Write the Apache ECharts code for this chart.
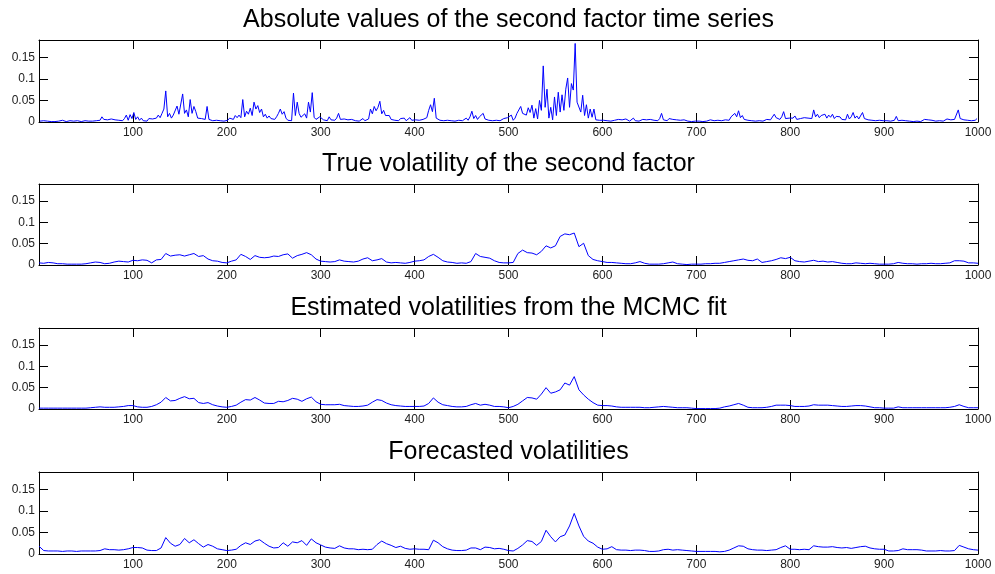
<!DOCTYPE html>
<html>
<head>
<meta charset="utf-8">
<script src="https://cdn.jsdelivr.net/npm/echarts@6/dist/echarts.min.js"></script>
<style>html,body{margin:0;padding:0;background:#fff}#c{width:995px;height:574px}</style>
</head>
<body>
<div id="c"></div>
<script>
// ---- Titles ----
const titles = [
  'Absolute values of the second factor time series',
  'True volatility of the second factor',
  'Estimated volatilities from the MCMC fit',
  'Forecasted volatilities'
];

// ---- Axis ticks ----
const xTicks = { min: 0, max: 1000, interval: 100 };
const yTicks = { min: 0, max: 0.19, interval: 0.05 };

// ---- Panel 1: absolute values, sampled at x = 1, 3, 5, ... 999 ----
const absStart = 1, absStep = 2;
const absValues = [
  0.002,0.001,0.003,0.001,0.002,0.004,0.001,0.002,0.001,0.003,0.002,0.001,0.004,0.002,0.001,0.002,0.003,0.001,0.002,0.001,0.003,0.002,0.001,0.002,0.003,
  0.003,0.002,0.004,0.002,0.005,0.003,0.006,0.004,0.012,0.006,0.003,0.005,0.004,0.007,0.003,0.005,0.008,0.004,0.006,0.003,0.008,0.016,0.004,0.017,0.008,
  0.022,0.006,0.012,0.004,0.009,0.003,0.006,0.002,0.008,0.004,0.007,0.003,0.009,0.016,0.01,0.02,0.03,0.072,0.012,0.02,0.009,0.016,0.012,0.037,0.018,
  0.022,0.065,0.02,0.028,0.012,0.052,0.02,0.036,0.024,0.009,0.005,0.008,0.004,0.006,0.036,0.006,0.008,0.003,0.007,0.004,0.008,0.003,0.006,0.002,0.005,
  0.004,0.009,0.012,0.006,0.015,0.01,0.016,0.01,0.052,0.012,0.025,0.018,0.032,0.015,0.046,0.03,0.038,0.022,0.03,0.012,0.018,0.009,0.014,0.008,0.011,
  0.006,0.012,0.02,0.03,0.018,0.024,0.009,0.004,0.006,0.003,0.067,0.015,0.046,0.02,0.011,0.015,0.019,0.009,0.046,0.023,0.068,0.011,0.006,0.009,0.012,
  0.015,0.005,0.008,0.003,0.012,0.005,0.007,0.004,0.009,0.02,0.006,0.004,0.007,0.003,0.005,0.002,0.006,0.004,0.003,0.007,0.002,0.006,0.008,0.003,0.005,
  0.007,0.03,0.019,0.036,0.026,0.034,0.048,0.019,0.027,0.015,0.011,0.015,0.006,0.009,0.004,0.007,0.003,0.008,0.005,0.009,0.003,0.006,0.01,0.004,0.007,
  0.005,0.009,0.004,0.007,0.006,0.008,0.01,0.027,0.04,0.024,0.055,0.009,0.006,0.004,0.008,0.003,0.006,0.004,0.007,0.003,0.005,0.002,0.006,0.004,0.008,
  0.003,0.006,0.009,0.004,0.012,0.025,0.008,0.015,0.006,0.012,0.009,0.02,0.007,0.01,0.004,0.007,0.003,0.006,0.004,0.008,0.003,0.005,0.008,0.004,0.01,
  0.006,0.016,0.004,0.009,0.02,0.018,0.036,0.02,0.023,0.016,0.033,0.022,0.039,0.009,0.031,0.007,0.05,0.027,0.13,0.034,0.076,0.009,0.034,0.005,0.058,
  0.015,0.069,0.023,0.063,0.027,0.076,0.102,0.034,0.089,0.074,0.182,0.046,0.05,0.023,0.062,0.015,0.04,0.009,0.03,0.011,0.03,0.005,0.008,0.004,0.006,
  0.004,0.007,0.003,0.005,0.002,0.006,0.004,0.003,0.006,0.002,0.005,0.003,0.007,0.004,0.002,0.006,0.009,0.003,0.005,0.002,0.004,0.006,0.003,0.005,0.002,
  0.006,0.01,0.004,0.007,0.003,0.008,0.02,0.005,0.007,0.003,0.008,0.004,0.006,0.002,0.005,0.003,0.004,0.002,0.005,0.003,0.002,0.004,0.001,0.003,0.002,
  0.004,0.002,0.003,0.001,0.004,0.002,0.003,0.005,0.002,0.003,0.001,0.004,0.002,0.003,0.002,0.005,0.006,0.004,0.012,0.008,0.02,0.012,0.026,0.01,0.015,
  0.006,0.01,0.004,0.006,0.003,0.005,0.002,0.004,0.003,0.005,0.002,0.004,0.006,0.003,0.005,0.008,0.018,0.01,0.014,0.006,0.012,0.024,0.008,0.005,0.009,
  0.005,0.009,0.014,0.006,0.004,0.008,0.005,0.01,0.006,0.009,0.012,0.008,0.028,0.012,0.018,0.01,0.015,0.012,0.018,0.009,0.016,0.011,0.018,0.008,0.013,
  0.009,0.012,0.006,0.008,0.005,0.018,0.007,0.012,0.022,0.009,0.014,0.007,0.01,0.022,0.008,0.011,0.005,0.009,0.004,0.007,0.003,0.006,0.004,0.007,0.003,
  0.005,0.003,0.006,0.002,0.005,0.004,0.013,0.003,0.006,0.004,0.007,0.003,0.005,0.002,0.004,0.001,0.003,0.002,0.004,0.001,0.002,0.006,0.003,0.005,0.002,
  0.004,0.006,0.002,0.005,0.003,0.006,0.002,0.004,0.007,0.003,0.005,0.004,0.006,0.01,0.028,0.008,0.011,0.005,0.008,0.004,0.007,0.003,0.006,0.004,0.008
];

// ---- Panels 2-4: volatilities, sampled at x = 0, 5, 10, ... 1000 ----
const volStart = 0, volStep = 5;
const trueVol = [
  0.005,0.004,0.006,0.005,0.003,0.003,0.002,0.002,0.002,0.002,0.003,0.005,0.007,0.006,0.003,0.004,0.007,0.009,0.008,0.007,
  0.011,0.01,0.012,0.011,0.005,0.012,0.013,0.027,0.021,0.023,0.024,0.021,0.024,0.027,0.02,0.022,0.014,0.01,0.009,0.006,
  0.005,0.009,0.012,0.025,0.02,0.013,0.022,0.018,0.017,0.018,0.021,0.02,0.024,0.026,0.016,0.022,0.025,0.029,0.024,0.014,
  0.009,0.008,0.007,0.008,0.012,0.009,0.008,0.007,0.009,0.014,0.017,0.01,0.012,0.015,0.007,0.005,0.006,0.005,0.004,0.006,
  0.009,0.01,0.012,0.02,0.025,0.018,0.01,0.007,0.006,0.004,0.005,0.004,0.008,0.027,0.02,0.018,0.016,0.01,0.006,0.005,
  0.005,0.006,0.027,0.035,0.029,0.028,0.024,0.032,0.045,0.04,0.045,0.067,0.073,0.071,0.075,0.043,0.051,0.022,0.013,0.01,
  0.008,0.006,0.006,0.005,0.004,0.003,0.003,0.005,0.008,0.004,0.002,0.002,0.002,0.003,0.005,0.007,0.003,0.002,0.001,0.002,
  0.002,0.002,0.003,0.003,0.004,0.004,0.006,0.008,0.01,0.012,0.014,0.011,0.01,0.014,0.006,0.008,0.01,0.013,0.017,0.015,
  0.018,0.01,0.008,0.007,0.009,0.011,0.008,0.009,0.007,0.008,0.006,0.004,0.003,0.003,0.005,0.004,0.003,0.004,0.003,0.002,
  0.002,0.002,0.003,0.006,0.004,0.003,0.003,0.002,0.003,0.003,0.004,0.003,0.003,0.004,0.005,0.01,0.01,0.009,0.005,0.005,
  0.004
];
const estVol = [
  0.002,0.002,0.002,0.002,0.002,0.002,0.002,0.002,0.002,0.002,0.002,0.003,0.004,0.005,0.004,0.004,0.004,0.005,0.006,0.008,
  0.008,0.005,0.004,0.004,0.006,0.01,0.016,0.027,0.019,0.02,0.025,0.029,0.024,0.025,0.015,0.013,0.015,0.01,0.007,0.005,
  0.004,0.006,0.009,0.016,0.022,0.021,0.027,0.021,0.014,0.013,0.013,0.018,0.017,0.02,0.025,0.023,0.018,0.024,0.028,0.017,
  0.011,0.01,0.01,0.01,0.011,0.008,0.007,0.006,0.006,0.007,0.009,0.016,0.022,0.02,0.014,0.01,0.008,0.007,0.006,0.006,
  0.006,0.006,0.007,0.013,0.026,0.016,0.01,0.008,0.006,0.005,0.005,0.006,0.01,0.013,0.009,0.011,0.009,0.006,0.006,0.005,
  0.003,0.006,0.011,0.019,0.027,0.026,0.023,0.035,0.05,0.037,0.04,0.045,0.061,0.056,0.076,0.045,0.033,0.023,0.015,0.009,
  0.008,0.008,0.007,0.005,0.004,0.004,0.004,0.004,0.004,0.003,0.003,0.004,0.005,0.006,0.005,0.004,0.003,0.003,0.003,0.002,
  0.001,0.001,0.001,0.001,0.001,0.002,0.005,0.007,0.01,0.013,0.009,0.004,0.003,0.003,0.003,0.004,0.006,0.009,0.009,0.009,
  0.008,0.006,0.006,0.006,0.007,0.01,0.009,0.009,0.009,0.008,0.007,0.006,0.006,0.007,0.008,0.008,0.007,0.005,0.003,0.003,
  0.002,0.002,0.002,0.005,0.003,0.003,0.003,0.003,0.003,0.003,0.003,0.003,0.003,0.003,0.004,0.006,0.01,0.006,0.003,0.003,
  0.003
];
const fcVol = [
  0.018,0.008,0.007,0.007,0.007,0.006,0.007,0.007,0.006,0.007,0.007,0.007,0.007,0.008,0.012,0.01,0.01,0.009,0.01,0.012,
  0.015,0.015,0.014,0.009,0.008,0.008,0.014,0.038,0.025,0.018,0.022,0.036,0.026,0.033,0.024,0.016,0.022,0.018,0.012,0.01,
  0.008,0.009,0.011,0.02,0.026,0.022,0.03,0.033,0.025,0.018,0.014,0.015,0.026,0.018,0.028,0.026,0.031,0.02,0.035,0.026,
  0.021,0.016,0.014,0.013,0.019,0.014,0.012,0.012,0.01,0.011,0.01,0.011,0.022,0.03,0.024,0.02,0.015,0.018,0.013,0.011,
  0.012,0.011,0.011,0.01,0.032,0.026,0.017,0.012,0.009,0.008,0.008,0.009,0.014,0.014,0.01,0.016,0.015,0.012,0.013,0.011,
  0.008,0.007,0.013,0.021,0.031,0.029,0.02,0.029,0.055,0.04,0.028,0.04,0.044,0.065,0.094,0.065,0.041,0.03,0.025,0.016,
  0.011,0.012,0.017,0.01,0.009,0.009,0.008,0.009,0.009,0.008,0.006,0.006,0.007,0.01,0.011,0.009,0.01,0.009,0.008,0.007,
  0.006,0.006,0.006,0.006,0.006,0.005,0.006,0.009,0.014,0.019,0.018,0.012,0.01,0.009,0.009,0.008,0.009,0.01,0.015,0.019,
  0.011,0.011,0.01,0.011,0.01,0.019,0.017,0.016,0.016,0.017,0.015,0.014,0.015,0.013,0.015,0.017,0.018,0.014,0.012,0.011,
  0.011,0.007,0.007,0.008,0.012,0.01,0.01,0.01,0.009,0.007,0.007,0.007,0.008,0.007,0.007,0.008,0.02,0.016,0.012,0.01,
  0.009
];

// ---- Build chart ----
const panels = [
  { vals: absValues, start: absStart, step: absStep },
  { vals: trueVol, start: volStart, step: volStep },
  { vals: estVol, start: volStart, step: volStep },
  { vals: fcVol, start: volStart, step: volStep }
];
const gridTops = [40, 184, 328, 472];
const gridHeights = [82, 81, 81, 82];
const L = 39, R = 17;
const FONT = '"Liberation Sans", Arial, Helvetica, sans-serif';
const axisLine = { show: true, onZero: false, lineStyle: { color: '#000', width: 1 } };
const tick = { show: true, inside: true, length: 9, lineStyle: { color: '#000', width: 1 } };

const option = {
  backgroundColor: '#fff',
  animation: false,
  title: [], grid: [], xAxis: [], yAxis: [], series: []
};
panels.forEach((p, i) => {
  option.title.push({
    text: titles[i], left: L + (995 - L - R) / 2, textAlign: 'center', top: gridTops[i] - 32,
    padding: 0,
    textStyle: { fontFamily: FONT, fontSize: 25, fontWeight: 'normal', color: '#000' }
  });
  option.grid.push({ left: L, right: R, top: gridTops[i], height: gridHeights[i] });
  // bottom x axis with labels
  option.xAxis.push({
    type: 'value', gridIndex: i, min: xTicks.min, max: xTicks.max, interval: xTicks.interval,
    position: 'bottom', axisLine, axisTick: tick, splitLine: { show: false },
    axisLabel: { showMinLabel: false, margin: 5, fontFamily: FONT, fontSize: 12, color: '#222',
      formatter: v => String(v) }
  });
  // top mirror
  option.xAxis.push({
    type: 'value', gridIndex: i, min: xTicks.min, max: xTicks.max, interval: xTicks.interval,
    position: 'top', axisLine, axisTick: tick, splitLine: { show: false }, axisLabel: { show: false }
  });
  option.yAxis.push({
    type: 'value', gridIndex: i, min: yTicks.min, max: yTicks.max, interval: yTicks.interval,
    position: 'left', axisLine, axisTick: tick, splitLine: { show: false },
    axisLabel: { showMaxLabel: false, margin: 4, fontFamily: FONT, fontSize: 12, color: '#222' }
  });
  option.yAxis.push({
    type: 'value', gridIndex: i, min: yTicks.min, max: yTicks.max, interval: yTicks.interval,
    position: 'right', axisLine, axisTick: tick, splitLine: { show: false }, axisLabel: { show: false }
  });
  option.series.push({
    type: 'line', xAxisIndex: 2 * i, yAxisIndex: 2 * i,
    data: p.vals.map((v, k) => [p.start + k * p.step, v]),
    showSymbol: false, symbol: 'none', clip: true,
    lineStyle: { color: '#0000ff', width: 1 }
  });
});

const chart = echarts.init(document.getElementById('c'), null, { renderer: 'canvas' });
chart.setOption(option);
</script>
</body>
</html>
